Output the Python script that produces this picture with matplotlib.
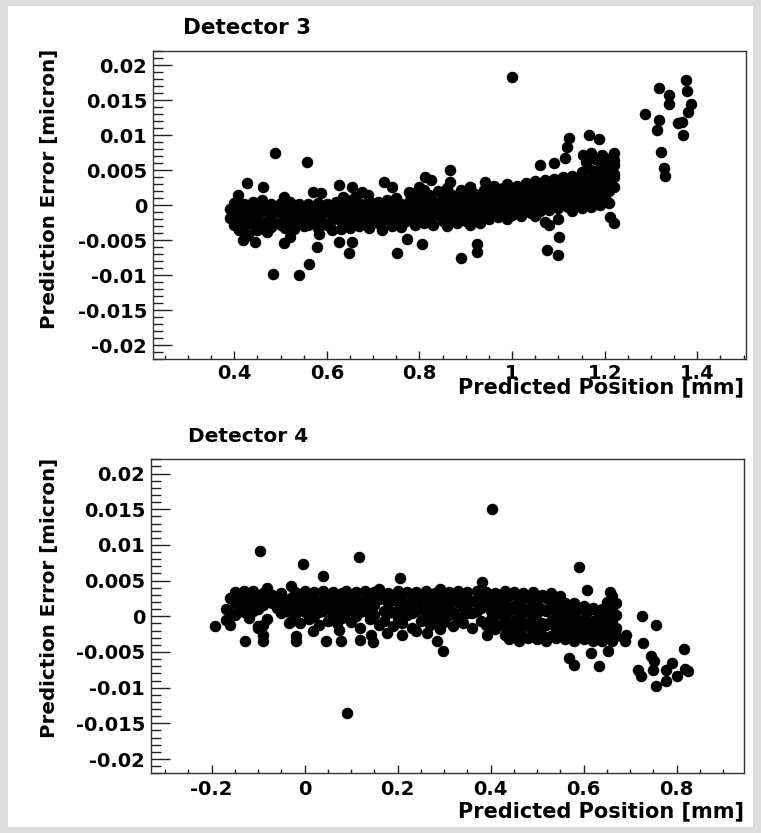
import numpy as np
import matplotlib.pyplot as plt
from matplotlib.ticker import MultipleLocator, FuncFormatter
from matplotlib.patches import Rectangle

# Detector 3: isolated points (x in mm, y in 1e-3 micron)
det3_sparse_x = [0.487, 0.558, 0.483, 0.540, 0.561, 0.578, 0.584, 0.508, 0.521, 0.419,
                 0.445, 0.428, 0.407, 0.462, 0.508, 0.571, 0.588, 0.626, 0.634, 0.655,
                 0.676, 0.689, 0.723, 0.740, 0.626, 0.647, 0.654, 0.751, 0.772, 0.806,
                 0.778, 0.799, 0.811, 0.824, 0.866, 0.866, 0.890, 0.924, 0.924, 0.908,
                 0.941, 0.958, 1.060, 1.090, 1.115, 1.119, 1.123, 1.166, 1.187, 1.153,
                 1.170, 1.195, 1.220, 1.076, 1.100, 1.101, 1.211, 1.221, 1.220, 1.220,
                 1.288, 1.317, 1.338, 1.338, 1.317, 1.313, 1.321, 1.328, 1.331, 1.375,
                 1.377, 1.387, 1.379, 1.368, 1.359, 1.370, 1.000]
det3_sparse_y = [7.4, 6.2, -9.8, -10.0, -8.4, -6.0, -4.1, -5.4, -4.6, -5.0,
                 -5.2, 3.1, 1.4, 2.6, 1.2, 1.9, 1.8, 2.9, 1.2, 2.6,
                 1.9, 1.4, 3.3, 2.6, -5.2, -6.9, -5.2, -6.9, -4.9, -5.5,
                 1.9, 2.6, 4.0, 3.6, 5.0, 3.3, -7.6, -5.5, -6.7, 2.6,
                 3.3, 1.9, 5.7, 6.0, 6.7, 8.3, 9.6, 10.0, 9.4, 7.1,
                 7.4, 7.1, 7.4, -6.4, -7.1, -4.5, -1.7, -2.6, 5.7, 4.0,
                 13.0, 16.7, 15.7, 14.5, 12.1, 10.7, 7.6, 5.3, 4.1, 17.8,
                 16.3, 14.5, 13.3, 11.9, 11.7, 10.0, 18.3]

# Detector 3: dense band, one column of y values per x position
det3_band_x = [0.39, 0.40, 0.41, 0.42, 0.43, 0.44, 0.45, 0.46, 0.47, 0.48,
               0.49, 0.50, 0.51, 0.52, 0.53, 0.54, 0.55, 0.56, 0.57, 0.58,
               0.59, 0.60, 0.61, 0.62, 0.63, 0.64, 0.65, 0.66, 0.67, 0.68,
               0.69, 0.70, 0.71, 0.72, 0.73, 0.74, 0.75, 0.76, 0.77, 0.78,
               0.79, 0.80, 0.81, 0.82, 0.83, 0.84, 0.85, 0.86, 0.87, 0.88,
               0.89, 0.90, 0.91, 0.92, 0.93, 0.94, 0.95, 0.96, 0.97, 0.98,
               0.99, 1.00, 1.01, 1.02, 1.03, 1.04, 1.05, 1.06, 1.07, 1.08,
               1.09, 1.10, 1.11, 1.12, 1.13, 1.14, 1.15, 1.16, 1.17, 1.18,
               1.19, 1.20, 1.21, 1.22]
det3_band_y = [[-0.5, -1.8], [0.3, -1.2, -2.8], [-0.4, -2.0, -3.6], [0.2, -1.5, -3.0],
               [-0.8, -2.4, -4.2], [0.5, -1.0, -2.9], [-0.2, -1.9, -3.5], [0.8, -0.9, -2.6],
               [-0.5, -2.2, -3.8], [0.1, -1.4, -3.1], [-0.7, -2.5], [0.3, -1.1, -2.9],
               [-0.4, -2.0, -3.3], [0.4, -1.3], [-0.6, -2.6, -3.4], [0.2, -1.5],
               [-0.3, -2.2, -3.0], [0.1, -1.2, -2.8], [-0.8, -2.0], [0.3, -1.6, -3.2],
               [-0.5, -2.4], [0.2, -1.0, -2.9], [-0.7, -2.1, -3.5], [0.5, -1.3],
               [-0.2, -2.2, -3.4], [0.9, -1.0, -2.7], [0.0, -1.8, -3.2], [1.2, -0.6, -2.4],
               [0.3, -1.5, -3.0], [-0.4, -2.2], [0.6, -1.2, -3.3], [-0.2, -1.9],
               [0.4, -1.0, -2.6], [-0.6, -2.3, -3.6], [0.7, -0.8, -2.0], [-0.1, -1.6, -3.0],
               [1.0, -0.5, -2.4], [0.2, -1.3, -3.1], [-0.7, -2.2], [0.8, -0.6, -1.9],
               [1.8, 0.0, -1.4, -2.9], [1.2, -0.3, -2.0], [2.2, 0.5, -1.1, -2.6], [1.4, -0.2, -1.7],
               [0.6, -0.9, -2.8], [2.0, 0.2, -1.4], [1.0, -0.6, -2.3], [2.4, 0.4, -1.2, -3.0],
               [1.5, -0.4, -2.0], [0.7, -1.0, -2.6], [2.1, 0.1, -1.6], [1.2, -0.5, -2.2],
               [2.6, 0.6, -1.1, -2.9], [1.6, -0.2, -1.8], [0.9, -0.9, -2.5], [2.2, 0.3, -1.4],
               [1.4, -0.4, -2.0], [2.7, 0.8, -1.0], [1.8, 0.0, -1.7], [2.4, 0.5, -1.3],
               [3.0, 1.2, -0.6, -2.0], [2.0, 0.3, -1.4], [2.8, 1.0, -0.8], [2.2, 0.4, -1.5],
               [3.2, 1.3, -0.5], [2.5, 0.7, -1.1], [3.4, 1.8, 0.0, -1.6], [2.6, 0.9, -0.8],
               [3.6, 1.6, -0.2, -2.4], [2.8, 1.1, -0.7, -2.8], [3.8, 2.0, 0.3], [3.0, 1.3, -0.4, -2.0],
               [4.0, 2.2, 0.6], [3.2, 1.6, -0.2], [4.2, 2.5, 0.9, -0.8], [3.4, 1.8, 0.2],
               [4.8, 2.9, 1.2, -0.4], [6.2, 3.6, 2.0, 0.4], [5.0, 3.0, 1.4, -0.3], [6.6, 4.2, 2.4, 0.8],
               [5.4, 3.4, 1.6, 0.0], [6.8, 4.6, 2.8, 1.0], [5.8, 3.8, 2.0, 0.3], [6.4, 4.4, 2.6]]

# Detector 4: isolated points
det4_sparse_x = [-0.193, -0.129, -0.089, -0.089, -0.101, -0.033, -0.019, -0.019, 0.018, 0.045,
                 0.078, 0.073, 0.118, 0.143, 0.148, 0.177, 0.210, 0.239, 0.264, 0.285,
                 0.298, 0.393, 0.568, 0.580, 0.616, 0.633, 0.652, 0.692, 0.689, 0.725,
                 0.728, 0.756, 0.745, 0.752, 0.750, 0.717, 0.723, 0.756, 0.777, 0.789,
                 0.778, 0.800, 0.815, 0.817, 0.825, 0.402, -0.096, -0.003, 0.117, 0.039,
                 0.204, 0.382, 0.589, 0.608, 0.656, 0.092]
det4_sparse_y = [-1.4, -3.5, -3.5, -2.6, -1.4, -0.9, -2.8, -3.5, -2.0, -3.5,
                 -3.4, -1.9, -3.3, -2.6, -3.6, -2.3, -2.6, -2.1, -2.3, -3.5,
                 -4.8, -2.6, -5.8, -6.8, -5.2, -6.9, -4.9, -2.6, -3.5, 0.0,
                 -3.7, -1.2, -5.5, -6.3, -7.5, -7.5, -8.4, -9.8, -7.5, -6.6,
                 -9.0, -8.4, -4.6, -7.4, -7.7, 15.0, 9.2, 7.3, 8.3, 5.7,
                 5.4, 4.8, 6.9, 3.7, 3.4, -13.6]

# Detector 4: dense band
det4_band_x = [-0.17, -0.16, -0.15, -0.14, -0.13, -0.12, -0.11, -0.10, -0.09, -0.08,
               -0.07, -0.06, -0.05, -0.04, -0.03, -0.02, -0.01, 0.00, 0.01, 0.02,
               0.03, 0.04, 0.05, 0.06, 0.07, 0.08, 0.09, 0.10, 0.11, 0.12,
               0.13, 0.14, 0.15, 0.16, 0.17, 0.18, 0.19, 0.20, 0.21, 0.22,
               0.23, 0.24, 0.25, 0.26, 0.27, 0.28, 0.29, 0.30, 0.31, 0.32,
               0.33, 0.34, 0.35, 0.36, 0.37, 0.38, 0.39, 0.40, 0.41, 0.42,
               0.43, 0.44, 0.45, 0.46, 0.47, 0.48, 0.49, 0.50, 0.51, 0.52,
               0.53, 0.54, 0.55, 0.56, 0.57, 0.58, 0.59, 0.60, 0.61, 0.62,
               0.63, 0.64, 0.65, 0.66, 0.67]
det4_band_y = [[1.0, -0.5], [2.6, 0.4, -1.2], [3.4, 1.8, 0.2], [2.8, 1.2], [3.6, 2.2, 0.6],
               [3.0, 1.5, -0.2], [3.5, 2.0, 0.8], [2.6, 1.0, -1.6], [3.2, 1.6, -1.2], [4.0, 2.4, -0.4],
               [3.0, 1.8], [2.4, 1.2], [3.2, 1.6, 0.5], [2.0, 0.8], [4.2, 2.6, 1.2, -0.6],
               [3.4, 1.8, 0.2], [2.8, 1.0, -1.0], [3.6, 2.2, 0.6], [2.6, 1.2, -0.4], [3.4, 1.8, 0.0],
               [2.2, 0.6, -1.2], [3.6, 2.0, 0.8], [2.8, 1.4, -0.6], [3.4, 2.2, 0.2], [2.4, 0.8, -1.0],
               [3.2, 1.6, -0.2], [3.6, 2.4, 0.6], [2.6, 1.0, -0.8], [3.4, 1.8, 0.0], [2.2, 0.6, -1.6],
               [3.6, 2.2, 0.8], [2.8, 1.2, -0.4], [3.4, 1.6, 0.2], [3.8, 2.4, -1.2], [2.6, 0.8, -0.6],
               [3.2, 1.8, 0.4], [2.4, 0.6, -1.4], [3.6, 2.0, -0.2], [2.8, 1.2, -1.0], [3.4, 1.6, 0.2],
               [2.2, 0.4, -1.6], [3.4, 2.4, 0.8], [2.6, 1.2, -0.6], [3.6, 1.8, 0.0], [2.4, 0.8, -1.2],
               [3.2, 1.4, -0.4], [3.8, 2.2, 0.4, -1.8], [2.8, 1.0, -0.8], [3.4, 1.8, 0.2], [2.4, 0.6, -1.4],
               [3.6, 2.0, -0.2], [2.6, 1.2, -1.0], [3.4, 1.6, 0.4], [2.2, 0.4, -1.6], [3.6, 2.2, 0.8],
               [2.8, 1.2, -0.6], [3.4, 1.6, -1.2], [2.6, 0.8, -0.4], [3.2, 1.8, 0.2, -1.8], [2.4, 0.6, -1.2],
               [3.6, 1.6, -0.4, -2.6], [2.8, 0.8, -1.6, -3.2], [3.4, 1.4, -0.6, -2.4], [2.4, 0.2, -1.8, -3.4],
               [3.2, 1.2, -0.8, -2.8], [2.6, 0.6, -1.4, -3.0], [3.4, 1.6, -0.4, -2.4], [2.2, 0.4, -1.6, -3.2],
               [3.0, 1.0, -1.0, -2.6], [2.6, 0.8, -1.2, -3.4], [3.2, 1.4, -0.6, -2.8], [2.4, 0.2, -1.8, -3.0],
               [2.8, 1.0, -1.0, -2.4], [1.8, 0.0, -1.6, -3.2], [1.2, -0.6, -2.2], [1.8, 0.2, -1.8, -3.4],
               [1.0, -0.8, -2.6], [1.4, -0.4, -2.0, -3.2], [0.8, -1.0, -2.6], [1.2, -0.6, -2.2, -3.4],
               [0.6, -1.2, -2.8], [1.0, -0.4, -1.8, -3.4], [2.0, 0.4, -1.4, -2.8],
               [2.8, 1.2, -0.6, -2.2, -3.4], [1.8, 0.2, -1.6, -2.8]]

W, H = 761, 833


def flatten(xs, cols):
    fx, fy = [], []
    for x, col in zip(xs, cols):
        for v in col:
            fx.append(x)
            fy.append(v)
    return fx, fy


def fmt(v, pos):
    return f'{round(v, 6) + 0.0:g}'


def style_axes(ax, xlim, xpad):
    ax.set_xlim(*xlim)
    ax.set_ylim(-0.022, 0.022)
    ax.xaxis.set_major_locator(MultipleLocator(0.2))
    ax.xaxis.set_minor_locator(MultipleLocator(0.05))
    ax.yaxis.set_major_locator(MultipleLocator(0.005))
    ax.yaxis.set_minor_locator(MultipleLocator(0.001))
    ax.xaxis.set_major_formatter(FuncFormatter(fmt))
    ax.yaxis.set_major_formatter(FuncFormatter(fmt))
    ax.tick_params(axis='both', which='both', direction='in', top=False, right=False,
                   color='#222222', width=1.0)
    ax.tick_params(axis='x', which='major', length=5.8, labelsize=14, pad=xpad)
    ax.tick_params(axis='x', which='minor', length=2.9)
    ax.tick_params(axis='y', which='major', length=13.7, labelsize=14, pad=4)
    ax.tick_params(axis='y', which='minor', length=7.2)
    for lab in ax.get_xticklabels() + ax.get_yticklabels():
        lab.set_fontweight('bold')
    for sp in ax.spines.values():
        sp.set_color('#333333')
        sp.set_linewidth(1.0)


plt.rcParams['font.family'] = ['DejaVu Sans']

fig = plt.figure(figsize=(W / 100, H / 100), dpi=100, facecolor='#dcdcdc')
fig.patches.append(Rectangle((8 / W, 1 - 827 / H), (753 - 8) / W, (827 - 6) / H,
                             transform=fig.transFigure, facecolor='white',
                             edgecolor='none', zorder=-5))

ax1 = fig.add_axes([152.7 / W, 1 - 359.3 / H, (745.7 - 152.7) / W, (359.3 - 51) / H])
ax2 = fig.add_axes([150.7 / W, 1 - 773.3 / H, (744.3 - 150.7) / W, (773.3 - 459.3) / H])

panels = [
    (ax1, det3_band_x, det3_band_y, det3_sparse_x, det3_sparse_y, (0.2238, 1.5045), 3.5),
    (ax2, det4_band_x, det4_band_y, det4_sparse_x, det4_sparse_y, (-0.331, 0.9454), 5.0),
]
for ax, bx, by, sx, sy, xlim, xpad in panels:
    fx, fy = flatten(bx, by)
    ax.plot(fx, np.array(fy) * 1e-3, 'o', color='black', ms=8.3, mew=0)
    ax.plot(sx, np.array(sy) * 1e-3, 'o', color='black', ms=8.3, mew=0)
    style_axes(ax, xlim, xpad)

# titles
fig.text(247 / W, 1 - 27.5 / H, 'Detector 3', ha='center', va='center',
         fontsize=15.5, fontweight='bold')
fig.text(248 / W, 1 - 436 / H, 'Detector 4', ha='center', va='center',
         fontsize=14.5, fontweight='bold')

# axis titles
for ytop in (49, 458):
    fig.text(50 / W, 1 - ytop / H, 'Prediction Error [micron]', rotation=90,
             ha='center', va='top', fontsize=14.3, fontweight='bold')
for ytop in (377, 801):
    fig.text(744 / W, 1 - ytop / H, 'Predicted Position [mm]', ha='right', va='top',
             fontsize=15, fontweight='bold')

fig.savefig('out.png', dpi=100, facecolor=fig.get_facecolor())
